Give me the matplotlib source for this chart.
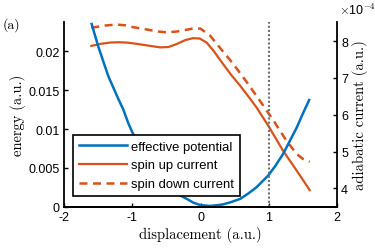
import matplotlib
matplotlib.use("Agg")
import matplotlib.pyplot as plt
from matplotlib.lines import Line2D

plt.rcParams['mathtext.fontset'] = 'cm'
plt.rcParams['font.family'] = ['Liberation Sans', 'DejaVu Sans']

# effective potential (left axis)
x_pot = [-1.60, -1.50, -1.42, -1.35, -1.27, -1.20, -1.13, -1.06, -1.00, -0.92, -0.85, -0.74, -0.60, -0.50, -0.35, -0.20, -0.10,
         0.00, 0.14, 0.25, 0.33, 0.45, 0.58, 0.70, 0.82, 0.99, 1.10, 1.21, 1.31, 1.41, 1.50, 1.60]
y_pot = [0.0237, 0.0207, 0.0186, 0.0168, 0.0152, 0.0138, 0.0125, 0.0108, 0.0096, 0.0083, 0.0071, 0.0054, 0.0038, 0.0027, 0.0017, 0.0010, 0.0005,
         0.0002, 0.0001, 0.0002, 0.0003, 0.0006, 0.0010, 0.0017, 0.0025, 0.0040, 0.0053, 0.0068, 0.0085, 0.0102, 0.0120, 0.0139]

# spin up current (right axis, x1e-4)
x_up = [-1.60, -1.45, -1.33, -1.20, -1.08, -0.95, -0.84, -0.70, -0.59, -0.47, -0.35, -0.22, -0.11, -0.01,
        0.09, 0.19, 0.33, 0.45, 0.58, 0.70, 0.82, 1.00, 1.21, 1.41, 1.60]
y_up = [7.87, 7.93, 7.96, 7.97, 7.96, 7.93, 7.90, 7.86, 7.83, 7.84, 7.92, 8.03, 8.08, 8.07,
        7.96, 7.74, 7.38, 7.08, 6.79, 6.50, 6.20, 5.68, 5.02, 4.48, 3.95]

# spin down current (right axis, x1e-4)
x_dn = [-1.60, -1.42, -1.23, -1.10, -0.99, -0.86, -0.74, -0.62, -0.50, -0.35, -0.20, -0.09, 0.00,
        0.14, 0.28, 0.48, 0.68, 0.87, 1.07, 1.26, 1.41, 1.50, 1.60]
y_dn = [8.36, 8.42, 8.45, 8.43, 8.38, 8.34, 8.30, 8.26, 8.24, 8.26, 8.31, 8.35, 8.34,
        8.15, 7.83, 7.38, 6.88, 6.38, 5.84, 5.29, 4.93, 4.80, 4.72]

x_ticks = [-2, -1, 0, 1, 2]
left_ticks = [0, 0.005, 0.01, 0.015, 0.02]
left_labels = ['0', '0.005', '0.01', '0.015', '0.02']
right_ticks = [4, 5, 6, 7, 8]
marker_x = 1.0

blue = '#0072BD'
orange = '#D95319'
serif = 'cmr10'

fig = plt.figure(figsize=(3.75, 2.51), dpi=100)
ax = fig.add_axes([0.1707, 0.1725, 0.7280, 0.7359])
ax2 = ax.twinx()

ax.plot(x_pot, y_pot, color=blue, lw=1.8, solid_capstyle='butt')
ax.axvline(marker_x, color='#707070', lw=1.5, ls=(0, (1, 1)))
ax2.plot(x_up, y_up, color=orange, lw=1.6)
ax2.plot(x_dn, y_dn, color=orange, lw=1.8, ls=(0, (3.2, 2.2)))

ax.set_xlim(-2, 2)
ax.set_ylim(0, 0.0238)
ax2.set_ylim(3.5, 8.52)
ax.set_xticks(x_ticks)
ax.set_xticklabels([str(v) for v in x_ticks])
ax.set_yticks(left_ticks)
ax.set_yticklabels(left_labels)
ax2.set_yticks(right_ticks)
ax2.set_yticklabels([str(v) for v in right_ticks])

for a in (ax, ax2):
    a.spines['top'].set_visible(False)
    for s in a.spines.values():
        s.set_linewidth(1.3)
    a.tick_params(direction='in', length=3, width=1.0, labelsize=9, pad=3)
ax2.spines['left'].set_visible(False)
ax.spines['right'].set_visible(False)
ax2.spines['right'].set_linewidth(1.3)

ax.set_xlabel('displacement (a.u.)', fontsize=10.5, family=serif, labelpad=2)
ax.set_ylabel('energy (a.u.)', fontsize=10.5, family=serif, labelpad=2)
ax2.set_ylabel('adiabatic current (a.u.)', fontsize=10.5, family=serif, labelpad=3)

fig.text(0.008, 0.90, '(a)', fontsize=10, family=serif, ha='left', va='center')
fig.text(0.905, 0.957, r'$\times$10$^{-4}$', fontsize=9, ha='left', va='center')

handles = [Line2D([], [], color=blue, lw=1.8),
           Line2D([], [], color=orange, lw=1.6),
           Line2D([], [], color=orange, lw=1.8, ls=(0, (3.2, 2.2)))]
leg = ax.legend(handles, ['effective potential', 'spin up current', 'spin down current'],
                loc='lower left', bbox_to_anchor=(0.033, 0.058), fontsize=9.4,
                frameon=True, fancybox=False, edgecolor='black', framealpha=1,
                handlelength=3.7, handletextpad=0.3, borderpad=0.45, labelspacing=0.5,
                borderaxespad=0)
leg.get_frame().set_linewidth(1.2)
ax.set_zorder(ax2.get_zorder() + 1)
ax.patch.set_visible(False)

fig.savefig('out.png', dpi=100)
